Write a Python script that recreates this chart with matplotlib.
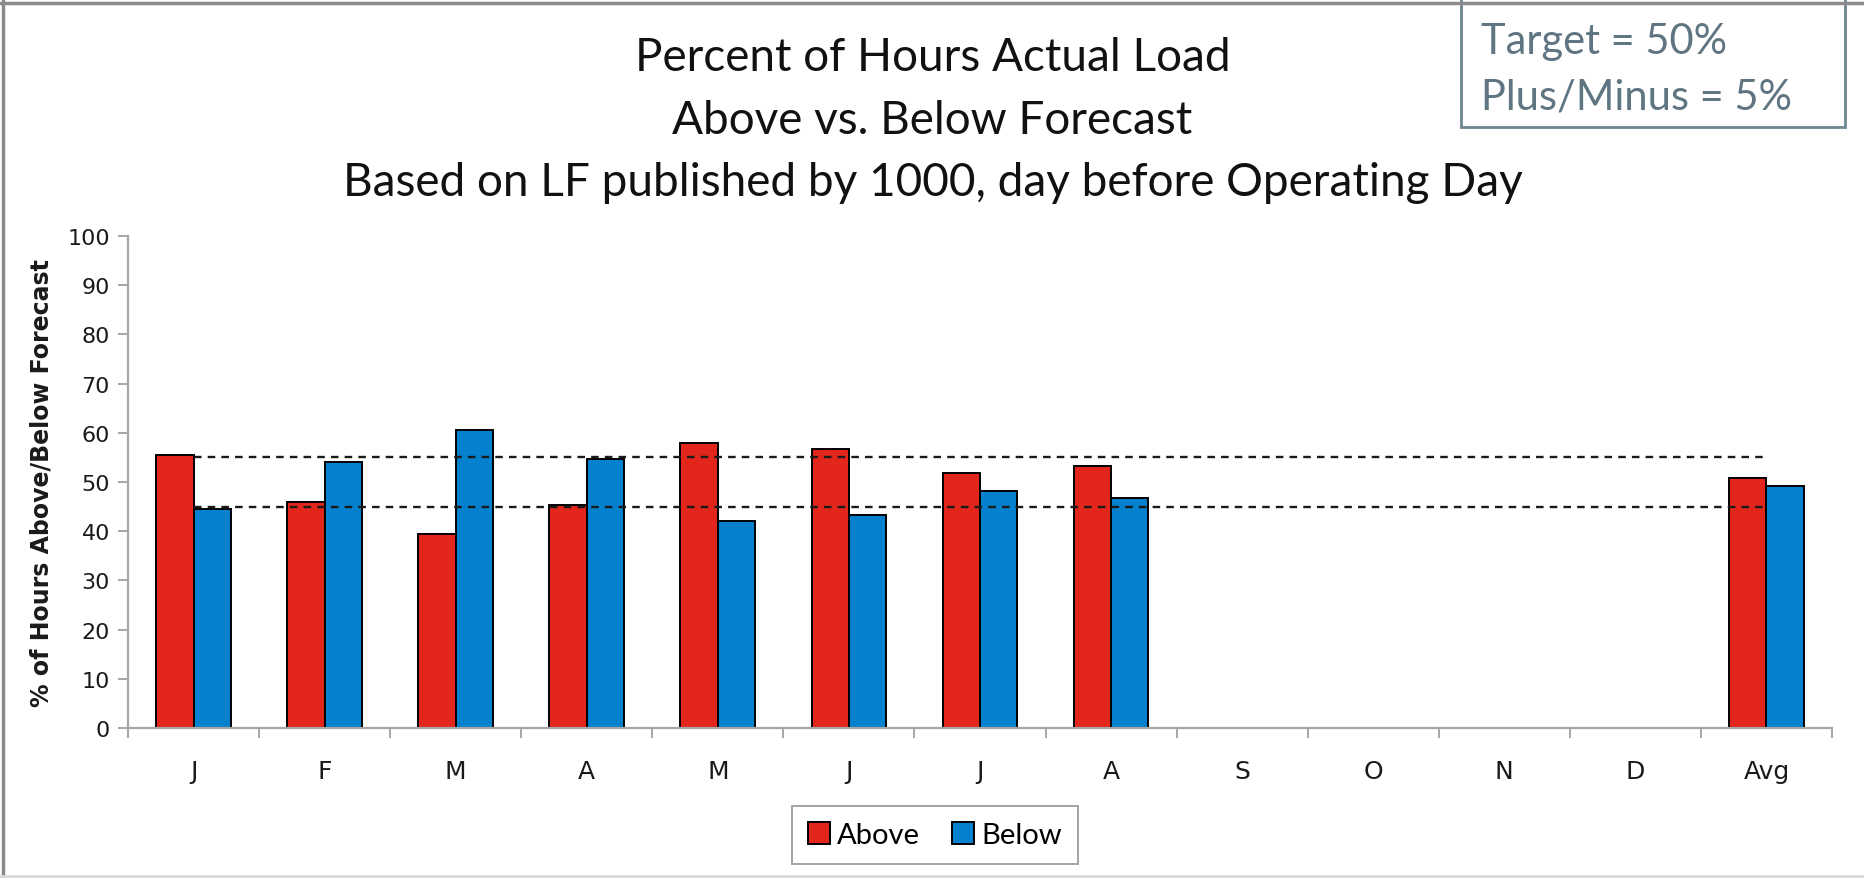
import matplotlib
matplotlib.use("Agg")
import matplotlib.pyplot as plt
import numpy as np
from matplotlib.lines import Line2D
from matplotlib.patches import Rectangle

months = ["J", "F", "M", "A", "M", "J", "J", "A", "S", "O", "N", "D", "Avg"]
above = [55.4, 46.0, 39.5, 45.4, 57.9, 56.8, 51.9, 53.2, np.nan, np.nan, np.nan, np.nan, 50.8]
below = [44.6, 54.0, 60.5, 54.6, 42.1, 43.2, 48.1, 46.8, np.nan, np.nan, np.nan, np.nan, 49.2]
upper_band = [55] * 13
lower_band = [45] * 13
yticks = list(range(0, 101, 10))

RED = "#E3261B"
BLUE = "#0381CE"
AXC = "#a6a6a6"
TITLE_FONT = ["Lato", "DejaVu Sans"]

fig = plt.figure(figsize=(18.65, 8.79), dpi=100)
ax = fig.add_axes([128 / 1865, 1 - 729 / 879, 1704 / 1865, 492 / 879])

x = np.arange(len(months))
w = 0.285
ax.bar(x - w / 2, above, w, color=RED, edgecolor="black", linewidth=1.4, label="Above", zorder=2)
ax.bar(x + w / 2, below, w, color=BLUE, edgecolor="black", linewidth=1.4, label="Below", zorder=2)
ax.plot(x, upper_band, color="#1a1a1a", lw=1.7, dashes=(3.2, 2.6), zorder=3)
ax.plot(x, lower_band, color="#1a1a1a", lw=1.7, dashes=(3.2, 2.6), zorder=3)

ax.set_xlim(-0.5, len(months) - 0.5)
ax.set_ylim(0, 100)
ax.set_yticks(yticks)
ax.set_xticks(x)
ax.set_xticklabels(months)
ax.set_xticks(np.arange(len(months) + 1) - 0.5, minor=True)
ax.tick_params(axis="x", which="major", length=0, pad=22, labelsize=18, labelcolor="#1a1a1a")
ax.tick_params(axis="x", which="minor", length=7, width=1.4, color=AXC, direction="out")
ax.tick_params(axis="y", length=7, width=1.4, color=AXC, direction="out", pad=6,
               labelsize=16, labelcolor="#1a1a1a")
for s in ["top", "right"]:
    ax.spines[s].set_visible(False)
for s in ["left", "bottom"]:
    ax.spines[s].set_color(AXC)
    ax.spines[s].set_linewidth(1.6)

ax.set_ylabel("% of Hours Above/Below Forecast", fontsize=17, fontweight="bold",
              color="#1a1a1a", labelpad=10)

fig.text(0.5, 1 - 58 / 879, "Percent of Hours Actual Load", ha="center", va="center",
         fontsize=33, family=TITLE_FONT, color="#111")
fig.text(0.5, 1 - 121 / 879, "Above vs. Below Forecast", ha="center", va="center",
         fontsize=33, family=TITLE_FONT, color="#111")
fig.text(0.5, 1 - 183 / 879, "Based on LF published by 1000, day before Operating Day",
         ha="center", va="center", fontsize=33, family=TITLE_FONT, color="#111")

leg = ax.legend(loc="center", bbox_to_anchor=(935 / 1865, 1 - 836 / 879),
                bbox_transform=fig.transFigure, ncol=2, frameon=True, fancybox=False,
                prop={"family": TITLE_FONT, "size": 21}, handlelength=0.75, handleheight=0.75,
                handletextpad=0.25, columnspacing=1.1, borderpad=0.55, borderaxespad=0)
leg.get_frame().set_edgecolor("#8c8c8c")
leg.get_frame().set_linewidth(1.4)

# outer chart frame
fig.add_artist(Line2D([0.0015, 0.0015], [0, 1], transform=fig.transFigure, color="#8a8a8a", lw=2.5))
fig.add_artist(Line2D([0, 1], [0.996, 0.996], transform=fig.transFigure, color="#8a8a8a", lw=2.5))
fig.add_artist(Line2D([0, 1], [0.002, 0.002], transform=fig.transFigure, color="#d9d9d9", lw=2))

# target note box
fig.add_artist(Rectangle((1461 / 1865, 1 - 128 / 879), 384 / 1865, 0.2, transform=fig.transFigure,
                         facecolor="white", edgecolor="#6f8591", lw=2))
fig.text(1481 / 1865, 1 - 42 / 879, "Target = 50%", ha="left", va="center", fontsize=30,
         family=TITLE_FONT, color="#5f7582")
fig.text(1481 / 1865, 1 - 98 / 879, "Plus/Minus = 5%", ha="left", va="center", fontsize=30,
         family=TITLE_FONT, color="#5f7582")

fig.savefig("out.png", dpi=100)
